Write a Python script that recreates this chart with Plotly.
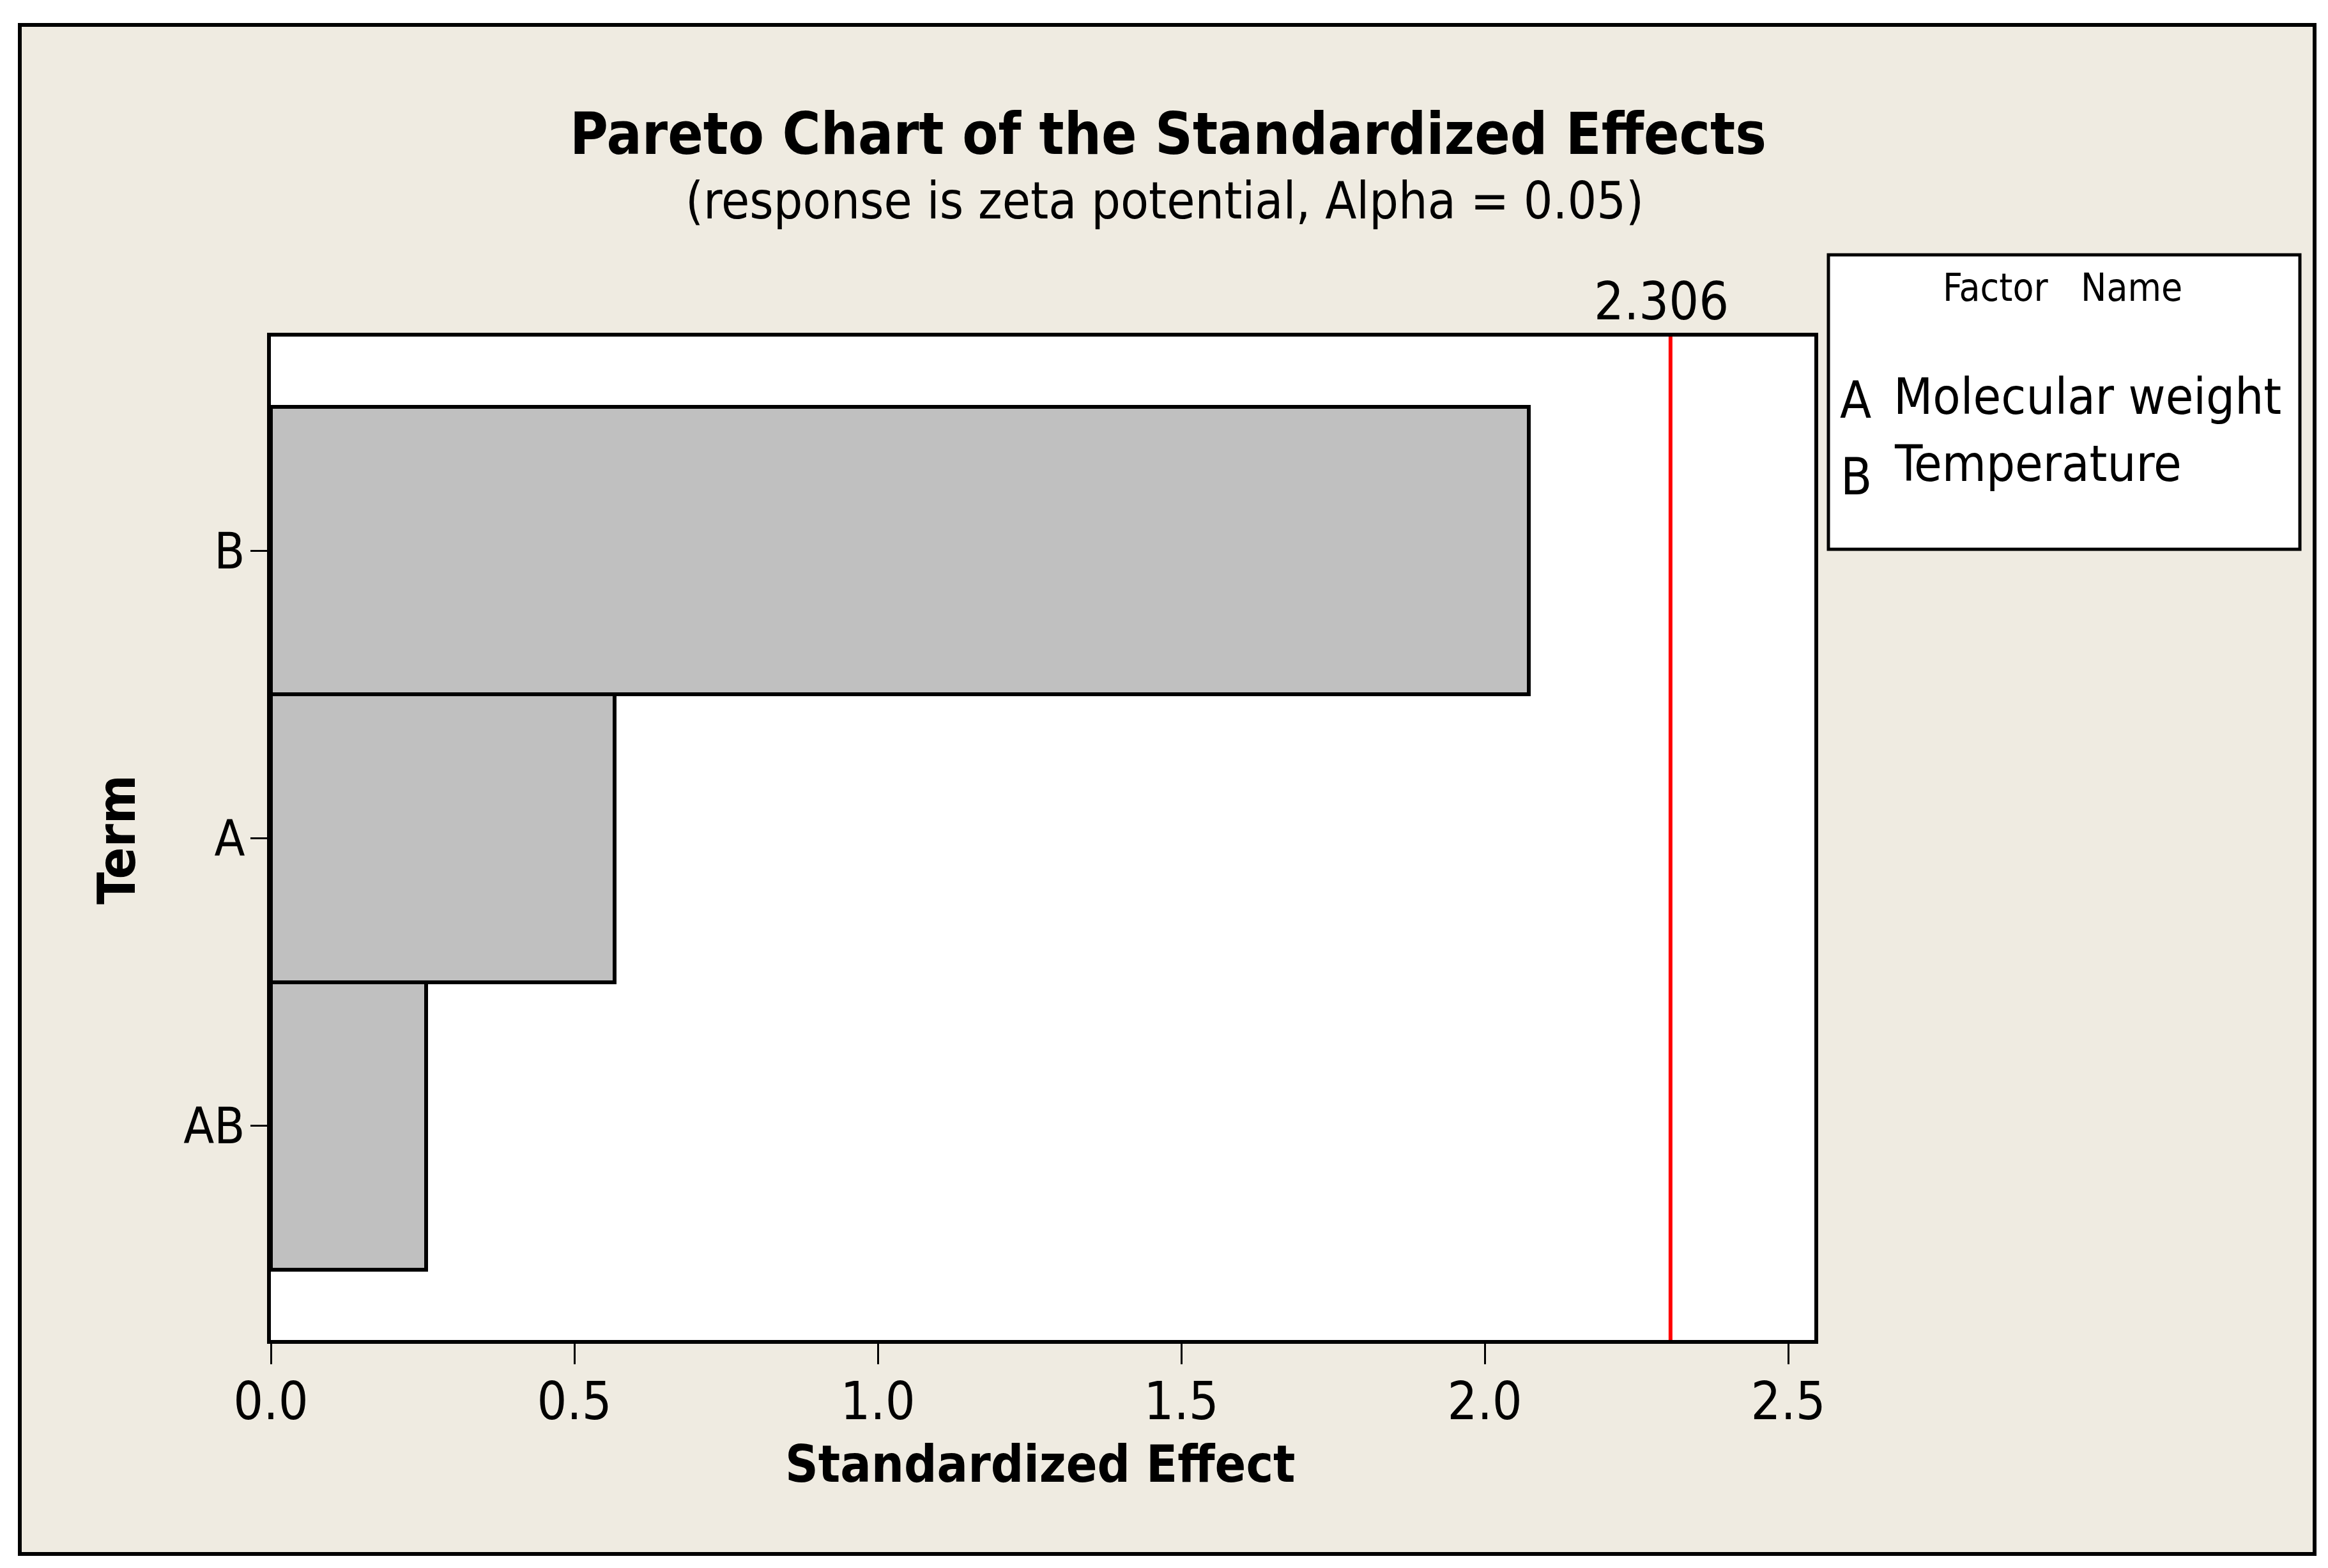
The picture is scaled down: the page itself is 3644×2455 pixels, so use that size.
import plotly.graph_objects as go

# ---------------- data ----------------
terms = ["AB", "A", "B"]
effects = [0.256, 0.566, 2.072]
critical_value = 2.306
critical_label = "2.306"
x_ticks = [0.0, 0.5, 1.0, 1.5, 2.0, 2.5]
x_tick_labels = ["0.0", "0.5", "1.0", "1.5", "2.0", "2.5"]
factor_codes = ["A", "B"]
factor_names = ["Molecular weight", "Temperature"]
title_text = "Pareto Chart of the Standardized Effects"
subtitle_text = "(response is zeta potential, Alpha = 0.05)"
x_title = "Standardized Effect"
y_title = "Term"

# ---------------- layout geometry (pixels) ----------------
W_FIG, H_FIG = 3644, 2455
L, R, T, B = 424, 2840, 527, 2098
PW, PH = R - L, B - T


def px_x(p):
    return (p - L) / PW


def px_y(p):
    return (B - p) / PH


FONT = "DejaVu Sans Condensed, DejaVu Sans, sans-serif"
BEIGE = "#EFEBE1"

fig = go.Figure(
    go.Bar(
        y=terms,
        x=effects,
        orientation="h",
        width=1.0,
        marker=dict(color="#C0C0C0", line=dict(color="black", width=6)),
        showlegend=False,
    )
)

shapes = [
    # page background with outer frame
    dict(type="rect", xref="paper", yref="paper", layer="below",
         x0=px_x(31), x1=px_x(3623), y0=px_y(2433), y1=px_y(39),
         fillcolor=BEIGE, line=dict(color="black", width=6)),
    # white plotting area
    dict(type="rect", xref="paper", yref="paper", layer="below",
         x0=0, x1=1, y0=0, y1=1, fillcolor="white", line=dict(width=0)),
    # critical value reference line
    dict(type="line", xref="x", yref="paper", layer="above",
         x0=critical_value, x1=critical_value, y0=0, y1=1,
         line=dict(color="#FF0000", width=6)),
    # factor box
    dict(type="rect", xref="paper", yref="paper", layer="above",
         x0=px_x(2862), x1=px_x(3600), y0=px_y(860), y1=px_y(399),
         fillcolor="white", line=dict(color="black", width=5)),
]

annotations = [
    dict(text="<b>" + title_text + "</b>", x=px_x(1828), y=px_y(209),
         xanchor="center", yanchor="middle", font=dict(size=91)),
    dict(text=subtitle_text, x=px_x(1823), y=px_y(314),
         xanchor="center", yanchor="middle", font=dict(size=80)),
    dict(text=critical_label, x=px_x(2600), y=px_y(472),
         xanchor="center", yanchor="middle", font=dict(size=82)),
    dict(text="<b>" + x_title + "</b>", x=px_x(1628), y=px_y(2292),
         xanchor="center", yanchor="middle", font=dict(size=80)),
    dict(text="<b>" + y_title + "</b>", x=px_x(182), y=px_y(1315),
         xanchor="center", yanchor="middle", textangle=-90, font=dict(size=82)),
    dict(text="Factor   Name", x=px_x(3228), y=px_y(450),
         xanchor="center", yanchor="middle", font=dict(size=60)),
]

code_pos = [(2905, 626), (2906, 746)]
name_pos = [(2962, 621), (2963, 726)]
for code, name, (cx, cy), (nx, ny) in zip(factor_codes, factor_names, code_pos, name_pos):
    annotations.append(dict(text=code, x=px_x(cx), y=px_y(cy), xanchor="center",
                            yanchor="middle", font=dict(size=80)))
    annotations.append(dict(text=name, x=px_x(nx), y=px_y(ny), xanchor="left",
                            yanchor="middle", font=dict(size=79)))

for a in annotations:
    a.update(xref="paper", yref="paper", showarrow=False)
    a["font"].update(family=FONT, color="black")

fig.update_layout(
    width=W_FIG,
    height=H_FIG,
    margin=dict(l=L, r=W_FIG - R, t=T, b=H_FIG - B, pad=0),
    paper_bgcolor="white",
    plot_bgcolor="white",
    font=dict(family=FONT, color="black"),
    shapes=shapes,
    annotations=annotations,
    bargap=0,
    xaxis=dict(
        range=[0, 2.543],
        tickvals=x_ticks,
        ticktext=x_tick_labels,
        ticks="outside",
        ticklen=32,
        tickwidth=3,
        tickcolor="black",
        ticklabelstandoff=-12,
        showline=True,
        linecolor="black",
        linewidth=6,
        mirror=True,
        showgrid=False,
        zeroline=False,
        tickfont=dict(size=82, family=FONT, color="black"),
    ),
    yaxis=dict(
        type="category",
        categoryorder="array",
        categoryarray=terms,
        range=[-0.745, 2.745],
        ticks="outside",
        ticklen=26,
        tickwidth=3,
        tickcolor="black",
        ticklabelstandoff=-7,
        showline=True,
        linecolor="black",
        linewidth=6,
        mirror=True,
        showgrid=False,
        zeroline=False,
        tickfont=dict(size=78, family=FONT, color="black"),
    ),
)

fig.write_html("out.html", config={"displayModeBar": False},
               post_script="document.body.style.margin='0';")
